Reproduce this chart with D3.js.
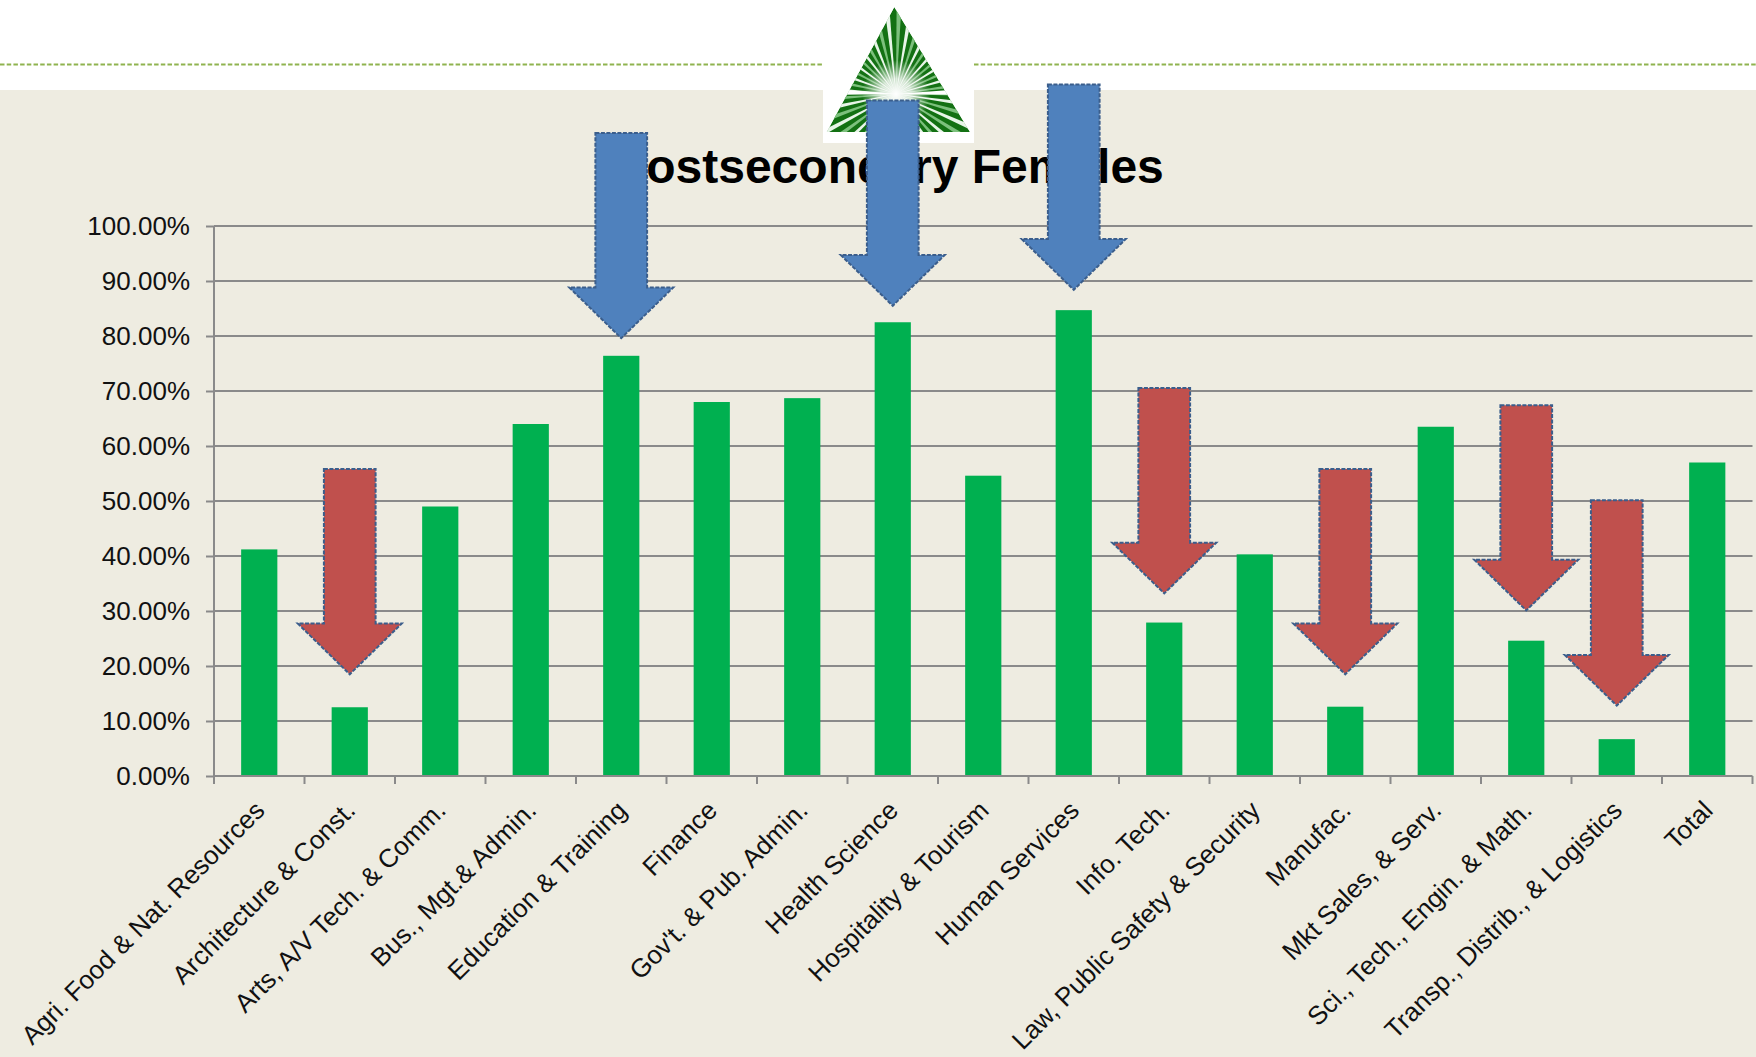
<!DOCTYPE html>
<html>
<head>
<meta charset="utf-8">
<script src="https://cdn.jsdelivr.net/npm/d3@7"></script>
<style>
  body { margin: 0; background: #fff; }
  text { font-family: "Liberation Sans", Arial, sans-serif; }
</style>
</head>
<body>
<script>
(function(d3) {

  var width = 1756, height = 1057;

  // Chart data.
  var categories = [
    "Agri. Food & Nat. Resources", "Architecture & Const.", "Arts, A/V Tech. & Comm.",
    "Bus., Mgt.& Admin.", "Education & Training", "Finance", "Gov't. & Pub. Admin.",
    "Health Science", "Hospitality & Tourism", "Human Services", "Info. Tech.",
    "Law, Public Safety & Security", "Manufac.", "Mkt Sales, & Serv.",
    "Sci., Tech., Engin. & Math.", "Transp., Distrib., & Logistics", "Total"
  ];
  var females = [0.412, 0.125, 0.490, 0.640, 0.764, 0.680, 0.687, 0.825, 0.546,
    0.847, 0.279, 0.403, 0.126, 0.635, 0.246, 0.067, 0.570];
  var yTicks = [0, 0.1, 0.2, 0.3, 0.4, 0.5, 0.6, 0.7, 0.8, 0.9, 1];

  // Annotation arrows: which category, where the tip points, high or low.
  var arrowCats = ["Architecture & Const.", "Education & Training", "Health Science",
    "Human Services", "Info. Tech.", "Manufac.", "Sci., Tech., Engin. & Math.",
    "Transp., Distrib., & Logistics"];
  var arrowTips = [0.185, 0.796, 0.855, 0.884, 0.332, 0.185, 0.301, 0.128];
  var arrowKinds = ["low", "high", "high", "high", "low", "low", "low", "low"];

  var title = "Postsecondary Females";

  var arrowFill = { high: "#4F81BD", low: "#C0504D" };

  var svg = d3.select("body").append("svg")
    .attr("width", width)
    .attr("height", height);

  // white header, tan chart area
  svg.append("rect").attr("width", width).attr("height", height).attr("fill", "#fff");
  svg.append("rect").attr("x", 0).attr("y", 90)
    .attr("width", width).attr("height", height - 90).attr("fill", "#EEECE1");

  // dashed rule across the header, broken by the logo
  [[0, 823], [974, width]].forEach(function(seg) {
    svg.append("line")
      .attr("x1", seg[0]).attr("x2", seg[1]).attr("y1", 64.5).attr("y2", 64.5)
      .attr("stroke", "#8FB34F").attr("stroke-width", 2.2)
      .attr("stroke-dasharray", "4.5,2.2");
  });

  var left = 214, right = 1752.5, top = 226, bottom = 776;

  var x = d3.scaleBand().domain(categories).range([left, right])
    .paddingInner(0.6).paddingOuter(0.3);
  var y = d3.scaleLinear().domain([0, 1]).range([bottom, top]);
  var step = x.step();

  // gridlines
  svg.append("g").selectAll("line").data(yTicks.slice(1)).join("line")
    .attr("x1", left).attr("x2", right)
    .attr("y1", function(d) { return y(d); }).attr("y2", function(d) { return y(d); })
    .attr("stroke", "#8A8A8A").attr("stroke-width", 2);

  // bars
  svg.append("g").selectAll("rect").data(categories).join("rect")
    .attr("x", function(d) { return x(d); })
    .attr("width", x.bandwidth())
    .attr("y", function(d, i) { return y(females[i]); })
    .attr("height", function(d, i) { return bottom - y(females[i]); })
    .attr("fill", "#00B050");

  // y axis
  var yAxis = svg.append("g")
    .attr("transform", "translate(" + left + ",0)")
    .call(d3.axisLeft(y).tickValues(yTicks).tickFormat(d3.format(".2%"))
      .tickSize(8).tickPadding(16));
  yAxis.select(".domain").attr("stroke", "#8A8A8A").attr("stroke-width", 2)
    .attr("d", "M0," + top + "V" + bottom);
  yAxis.selectAll(".tick line").attr("stroke", "#8A8A8A").attr("stroke-width", 2);
  yAxis.selectAll(".tick text")
    .style("font-family", "'Liberation Sans', Arial, sans-serif")
    .style("font-size", "26px").attr("fill", "#111");

  // x axis: baseline and ticks between categories
  svg.append("line").attr("x1", left).attr("x2", right)
    .attr("y1", bottom).attr("y2", bottom)
    .attr("stroke", "#8A8A8A").attr("stroke-width", 2);
  var bounds = categories.map(function(d) { return x(d) - step * 0.3; });
  bounds.push(right);
  svg.append("g").selectAll("line").data(bounds).join("line")
    .attr("x1", function(d) { return d; }).attr("x2", function(d) { return d; })
    .attr("y1", bottom).attr("y2", bottom + 8)
    .attr("stroke", "#8A8A8A").attr("stroke-width", 2);

  svg.append("g").selectAll("text").data(categories).join("text")
    .attr("transform", function(d) {
      return "translate(" + (x(d) + x.bandwidth() / 2 + 7) + "," + (bottom + 36) + ") rotate(-45)";
    })
    .attr("text-anchor", "end")
    .style("font-size", "26px")
    .attr("fill", "#111")
    .text(function(d) { return d; });

  // title
  svg.append("text")
    .attr("x", 889).attr("y", 183)
    .attr("text-anchor", "middle")
    .style("font-size", "48px").style("font-weight", "bold")
    .attr("fill", "#000")
    .text(title);

  // logo: green triangle with white rays from a point low in the middle
  var logo = svg.append("g");
  logo.append("rect").attr("x", 823).attr("y", 0).attr("width", 151).attr("height", 143)
    .attr("fill", "#fff");
  var tri = [[894.3, 7], [826.7, 132], [970, 132]];
  var defs = svg.append("defs");
  defs.append("clipPath").attr("id", "tri")
    .append("path").attr("d", "M" + tri.join("L") + "Z");
  var glow = defs.append("radialGradient").attr("id", "glow");
  glow.append("stop").attr("offset", "0%").attr("stop-color", "#fff").attr("stop-opacity", 1);
  glow.append("stop").attr("offset", "45%").attr("stop-color", "#fff").attr("stop-opacity", 0.8);
  glow.append("stop").attr("offset", "100%").attr("stop-color", "#fff").attr("stop-opacity", 0);

  var lg = logo.append("g").attr("clip-path", "url(#tri)");
  lg.append("path").attr("d", "M" + tri.join("L") + "Z").attr("fill", "#137113");
  var fx = 896, fy = 94, R = 170;
  d3.range(0, 360, 8).forEach(function(a, i) {
    var t0 = (a - 1.6) * Math.PI / 180, t1 = (a + 1.6) * Math.PI / 180;
    lg.append("path")
      .attr("d", "M" + fx + "," + fy +
        "L" + (fx + R * Math.cos(t0)) + "," + (fy + R * Math.sin(t0)) +
        "L" + (fx + R * Math.cos(t1)) + "," + (fy + R * Math.sin(t1)) + "Z")
      .attr("fill", i % 2 ? "#e8f5e8" : "#7cc07c");
  });
  // gap between upper triangle and lower band
  lg.append("path")
    .attr("d", "M" + fx + "," + fy + "L820,88L820,95Z M" + fx + "," + fy + "L975,88L975,95Z")
    .attr("fill", "#fff");
  lg.append("circle").attr("cx", fx).attr("cy", fy).attr("r", 34).attr("fill", "url(#glow)");

  // arrows
  var shaftHalf = 25.85, headHalf = 52, headH = 50.7, totalH = 205.3;
  function arrowPath(cx, tip) {
    var topY = tip - totalH, neck = tip - headH;
    return "M" + (cx - shaftHalf) + "," + topY +
      "L" + (cx + shaftHalf) + "," + topY +
      "L" + (cx + shaftHalf) + "," + neck +
      "L" + (cx + headHalf) + "," + neck +
      "L" + cx + "," + tip +
      "L" + (cx - headHalf) + "," + neck +
      "L" + (cx - shaftHalf) + "," + neck + "Z";
  }
  svg.append("g").selectAll("path").data(arrowCats).join("path")
    .attr("d", function(d, i) {
      return arrowPath(x(d) + x.bandwidth() / 2, y(arrowTips[i]));
    })
    .attr("fill", function(d, i) { return arrowFill[arrowKinds[i]]; })
    .attr("stroke", "#3B5E8C").attr("stroke-width", 2)
    .attr("stroke-dasharray", "4,1.5");

})(d3);
</script>
</body>
</html>
